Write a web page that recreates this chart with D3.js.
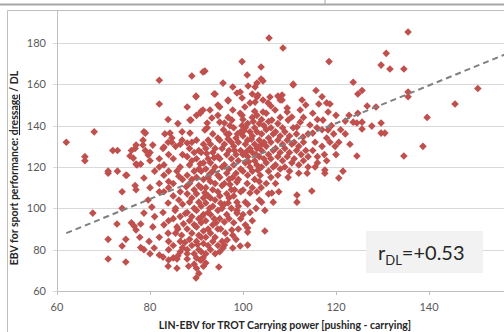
<!DOCTYPE html>
<html>
<head>
<meta charset="utf-8">
<script src="https://cdn.jsdelivr.net/npm/d3@7"></script>
<style>
  body { margin: 0; background: #fff; }
  svg { display: block; font-family: Lato, "Open Sans", sans-serif; }
</style>
</head>
<body>
<svg id="chart" width="504" height="332"></svg>
<script>
'use strict';
// LIN-EBV (trot carrying power) vs EBV dressage
const xTicks = [60, 80, 100, 120, 140];
const yTicks = [60, 80, 100, 120, 140, 160, 180];
const trendX = [62, 160];
const trendY = [88, 177.8];
const rLabel = 'r', rSub = 'DL', rValue = '=+0.53';

const ebvPairs = [
  // sparse left side
  [62,132],[66,125],[66,123],[68,137],[67.7,97.7],[71,117],[73,118],[74.8,116],[72,128],[73,128],
  [71,85],[74.8,85],[74,81.8],[71,75.5],[74.8,74],[72.9,92.4],[74,100],[74,108],[76,93],[76.6,91.4],
  [77,89.5],[78,92.4],[77.8,86],[79.8,84],[78,81],[78.7,80],[80.6,91],[80.9,80.8],[77,121.4],[78,121.4],
  [78.7,114.7],[76.8,111],[77,109],[76,128],[77,130.6],[78.5,130.6],[79,128],[79.6,125.8],[78.7,137],[82,162],
  [82,150.5],[83.9,143],[83.2,136],[84.3,136.4],[84.7,134],[83.9,132],[83,129.7],[82,77.4],[82.8,76.4],[83.9,72],
  [82.8,98],[83.9,102.6],[79.6,104],[80.4,100.6],[78.7,97.7],[83.9,88],[75.7,125.3],[76.4,124.3],[80,127],[80.6,130.6],
  [82.8,129],[84.7,132],[79,136.4],[78.5,133],[76.8,129],[71,118],[75,116],[77.2,121],[81,118],[82,112],
  [83,108],[80,110],[84,118],[83,121],[82,124],[84,126],[80,123],[81,96],[84,94],[84,84],
  [82,86],[84,80],[80,78],[84,75],[83,92],[82,120],[83,116],[84,113],[82,108],[84,110],
  // x 85-89
  [85,76],[85,82],[85.5,88],[85,95],[85.5,100],[85,106],[85,112],[85.8,118],[85,124],[85.5,130],
  [85.8,75.5],[85.8,71],[85.4,99],[85.8,91],[86,141],[86.9,137],[86.9,133],
  [86.5,79],[86.5,84],[86,90],[86.5,96],[87,102],[86.5,108],[87,114],[86.5,120],[87,126],[86.5,131],[87,81],[86.8,87],
  [88,75.5],[88,80],[88.5,85],[88,90],[88.5,94],[88,98],[88.5,103],[88,107],[88.5,112],[88,116],
  [88.5,121],[88,125],[88.5,129],[88,131.6],[88,149],[88.6,136.4],[88.6,142.7],[88,78],[88.3,72],
  [89,82],[89.5,78],[89,88],[89.5,92],[89,96],[89.5,100],[89,105],[89.5,109],[89,114],[89.5,118],
  [89,123],[89.5,127],[89,132],[89.9,154],[89.9,154.3],[88.8,142.7],[89,164],[89.9,66.3],[89.5,73],
  [87.2,92.5],[87.6,97.5],[86.2,104],[87.8,110.5],[86.2,115.5],[87.5,83.5],[86,77],
  // x 90-94
  [90,76],[90.5,80],[90,84],[90.5,87],[90,91],[90.5,95],[90,99],[90.5,103],[90,107],[90.5,111],
  [90,115],[90.5,119],[90,124],[90.5,128],[90,133],[90.8,146],[90,145],[90.8,75],[90,71],[90.5,68.5],
  [91,75],[91.4,76],[91,79],[91.5,83],[91,86],[91.5,89],[91,93],[91.5,97],[91,101],[91.5,105],
  [91,110],[91.5,114],[91,118],[91.5,122],[91,127],[91.5,131],[91.8,137.9],[91,147],[91.4,147.6],[91.4,166],
  [91.8,166.4],[91.5,72],
  [92,78],[92.5,82],[92,86],[92.5,90],[92,94],[92.5,98],[92,102.6],[92.5,106],[92,110],[92.5,115],
  [92,119],[92.5,124],[92,129],[92.3,141.3],[92.3,139],[92.9,147.6],[92.5,133],[92,73.5],
  [93,80],[93.5,84],[93,88],[93.5,92],[93,97],[93.5,101],[93,105],[93.5,109],[93,113],[93.5,118],
  [93,122],[93.5,127],[93,131],[93.3,143.7],[93.8,155.3],[93.5,136],
  [94,78],[94.6,82],[94,86],[94.6,90],[94.6,99],[94,104],[94.6,108],[94,112],[94.6,116],[94,120],
  [94.6,125],[94,129],[94.6,134],[94.6,145],[94.6,150],[94,155.3],[94.8,71.6],
  [90.2,82.5],[91.2,96],[92.8,100],[93.8,95],[91.8,107.5],[92.8,116.5],[93.8,124.5],[90.8,121.5],[92.2,126.5],[94.2,93],
  // x 95-99
  [95,79],[95.5,84],[95,95],[95.5,100],[95,106],[95.5,111],[95,115],[95.5,120],[95,124],[95.5,129],
  [95,133],[95,141.7],[95,149],[95.7,80.8],[95.7,160.6],
  [96,82.2],[96,93.4],[96.6,84.7],[96.5,97],[96,102],[96.5,107],[96,112],[96.5,117],[96,121],[96.5,126],
  [96,131],[96.5,136],[96,141.3],[96.8,144],[96.8,152],[96.8,152.4],[96.8,102.6],
  [97.6,89.5],[97.8,87],[97.8,80.8],[97,95],[97.5,100],[97,105],[97.5,109],[97,114],[97.8,115],[97,119],
  [97.5,124],[97,128],[97.5,132],[97,136],[97.6,142.7],[97.8,147.6],[97.8,158.7],
  [98.7,99],[98.7,97.7],[98.7,103],[98.7,112.7],[98,106],[98.5,117],[98,121],[98.5,126],[98,130],[98.5,134],
  [98,139],[98.7,155.8],[98,93],[98.5,85],
  [99.4,81.8],[99,90],[99.5,95],[99,101],[99.5,108],[99,114],[99.5,119],[99,123],[99.5,128],[99,132],
  [99.5,137],[99.8,140],[99.8,145],[99.4,146],[99.8,153.4],[99.4,156.3],[99.8,171],
  [95.2,90],[96.2,88],[95.8,138],[97.2,140],[98.2,128],[96.8,133.5],[98.8,136],[95.2,102.5],[97.2,111.5],[98.2,109],
  // x 100-104
  [100,108.9],[100.9,112],[100.4,149],[100.9,164.5],[100,118],[100.5,122],[100,126],[100.5,131],[100,135],[100.5,139],
  [100,143],[100.5,103],[100,97],[100.5,92],
  [101,90.5],[101,88.5],[101,82.2],[101.5,107.4],[101.5,151],[101.1,159.2],[101,116],[101.5,120],[101,125],[101.5,129],
  [101,133],[101.5,137],[101,141],[101.5,98],[101,102],
  [102,94],[102.8,100],[102,144],[102,155.3],[102.6,158.7],[102.6,151.4],[102,110],[102.5,114],[102,118],[102.5,123],
  [102,127],[102.5,131],[102,135],[102.5,139],[102.5,147],
  [103,160.6],[103,153.9],[103.2,154.8],[103.5,104],[103,108],[103.5,113],[103,121],[103.5,125],[103,129],[103.5,133],
  [103,137],[103.5,141],[103,145],
  [104,103],[104.7,99],[104.7,89],[103.7,116],[103.9,110],[103.9,168.4],[103.9,162.6],[104.3,161.6],[104.3,152.4],[104.3,146.6],
  [104,120],[104.5,124],[104,128],[104.5,132],[104,136],[104.5,140],[104,143],
  [100.8,127.5],[101.8,133.5],[102.8,126],[103.8,130.5],[100.2,137.5],[102.2,142],[103.2,118.5],[101.2,122.5],
  // x 105-110
  [105.6,182.4],[105.4,151],[105.8,153.9],[105,112],[105.5,118],[105,122],[105.5,126],[105,130],[105.5,134],[105,138],
  [105.5,142],[105,146],[105.5,107],
  [106.2,107.4],[106.5,103],[106.2,142.7],[106,149.5],[106.9,147.6],[106,115],[106.5,120],[106,124],[106.5,128],[106,132],
  [106.5,136],[106,139],
  [107.5,116],[107.7,108],[107.5,154.3],[107,121],[107.5,125],[107,129],[107.5,133],[107,137],[107.5,141],[107,112],
  [108,144],[108,152.4],[108.4,152.4],[108.4,154.8],[108.6,177.6],[108,119],[108.5,123],[108,127],[108.5,131],[108,135],[108.5,139],
  [109.5,146.6],[109.5,148.5],[109.7,142.7],[109.7,115],[109,120],[109.5,125],[109,129],[109.5,133],[109,137],
  [110.8,139],[110.5,144.2],[110.8,159.7],[110.8,160.1],[110,118],[110.5,122],[110,127],[110.5,131],[110,135],
  // x 111-121
  [111.6,106.4],[111.6,103],[111.6,139.3],[111,124],[111.5,128],[111,132],[111.5,136],[112.3,141.7],[112.3,147.6],[112.7,152.4],
  [112.9,134.5],[112,121],[112.5,126],[112,130],[112,117],
  [113.8,117],[113.5,150],[114.4,140.3],[114.8,108.4],[113,123],[113.5,128],[113,132],[114,136],[114,125],[113,144],[114,120],
  [115,136.4],[115.7,157],[115.9,139],[116.3,150.5],[115,128],[115.5,132],[116,125],[115.5,120],[116,143],[115,146],[116,122],
  [117.6,117],[117.6,118.5],[117,154],[117.2,142.7],[118,151],[118.3,146.6],[118.3,137.9],[118.5,171],[117,130],[117.5,126],
  [118,134],[117,138],[118,123],
  [118.7,150.5],[118.7,132],[119.8,130],[120.6,132],[121.5,118],[120.6,114.7],[119,140],[120,145],[119.5,136],[121,138],[120,126],
  // x 122 and up
  [123.7,161],[125.6,157],[124.7,155.3],[124.7,146],[122.8,145],[122,142.2],[123.7,141.7],[124.5,141.3],[125.6,141.7],[125.6,138.4],
  [124.5,125.3],[126.7,149.5],[122,136],[123,131],
  [128.6,149],[127.7,139.8],[129.7,141.3],[129.7,136.4],[130.5,136.4],[129.7,169.3],[131.6,167.4],[130.8,175],
  [134.6,167.4],[135.5,185.3],[135.5,156.3],[135.5,154],[134.6,125.3],[138.7,130],[139.6,144],[145.6,150.5],[150.5,158]
];

const svg = d3.select('#chart');
const W = 504, H = 332;

// frame lines (page border + chart border)
svg.append('line').attr('x1', 0).attr('x2', W).attr('y1', 4.5).attr('y2', 4.5)
  .attr('stroke', '#a6a6a6').attr('stroke-width', 2);
svg.append('line').attr('x1', 325).attr('x2', 325).attr('y1', 0).attr('y2', 4)
  .attr('stroke', '#a6a6a6').attr('stroke-width', 1);
svg.append('path').attr('d', `M7.5,${H}V10.5H${W}`)
  .attr('fill', 'none').attr('stroke', '#bfbfbf');

const x = d3.scaleLinear().domain([60, 160]).range([57, 522]);
const y = d3.scaleLinear().domain([60, 195]).range([291, 12]);

// horizontal gridlines
svg.append('g').selectAll('line').data(yTicks).enter().append('line')
  .attr('x1', 53).attr('x2', W)
  .attr('y1', d => Math.round(y(d)) + .5).attr('y2', d => Math.round(y(d)) + .5)
  .attr('stroke', '#d9d9d9');

// y axis line
svg.append('line').attr('x1', x(60) + .5).attr('x2', x(60) + .5)
  .attr('y1', 11).attr('y2', y(60)).attr('stroke', '#bfbfbf');

// x axis line + ticks
svg.append('line').attr('x1', x(60)).attr('x2', W)
  .attr('y1', Math.round(y(60)) + .5).attr('y2', Math.round(y(60)) + .5).attr('stroke', '#bfbfbf');
svg.append('g').selectAll('line').data(xTicks).enter().append('line')
  .attr('x1', d => Math.round(x(d)) + .5).attr('x2', d => Math.round(x(d)) + .5)
  .attr('y1', y(60)).attr('y2', y(60) + 4).attr('stroke', '#bfbfbf');

// tick labels
svg.append('g').selectAll('text').data(yTicks).enter().append('text')
  .attr('x', 46).attr('y', d => y(d) + 4)
  .attr('text-anchor', 'end').attr('font-size', 11).attr('fill', '#595959')
  .text(d => d);
svg.append('g').selectAll('text').data(xTicks).enter().append('text')
  .attr('x', d => x(d)).attr('y', 311)
  .attr('text-anchor', 'middle').attr('font-size', 11).attr('fill', '#595959')
  .text(d => d);

// points
const diamond = d3.symbol().type(d3.symbolSquare).size(29);
svg.append('g').selectAll('path').data(ebvPairs).enter().append('path')
  .attr('d', diamond)
  .attr('transform', d => `translate(${x(d[0])},${y(d[1])}) rotate(45)`)
  .attr('fill', '#c0504d');

// trend line
svg.append('line')
  .attr('x1', x(trendX[0])).attr('y1', y(trendY[0]))
  .attr('x2', x(trendX[1])).attr('y2', y(trendY[1]))
  .attr('stroke', '#808080').attr('stroke-width', 2).attr('stroke-dasharray', '6,4');

// axis titles
svg.append('text').attr('x', 285).attr('y', 329)
  .attr('text-anchor', 'middle').attr('font-size', 10.5).attr('font-weight', 'bold')
  .attr('fill', '#262626')
  .text('LIN-EBV for TROT Carrying power [pushing - carrying]');

const yt = svg.append('text')
  .attr('transform', 'translate(18,168) rotate(-90)')
  .attr('text-anchor', 'middle').attr('font-size', 10.5).attr('font-weight', 'bold')
  .attr('fill', '#262626');
yt.append('tspan').text('EBV for sport performance: ');
yt.append('tspan').attr('text-decoration', 'underline').text('dressage');
yt.append('tspan').text(' / DL');

// correlation box
svg.append('rect').attr('x', 366).attr('y', 231).attr('width', 117).attr('height', 42)
  .attr('fill', '#f2f2f2');
const rt = svg.append('text').attr('x', 378).attr('y', 260)
  .attr('font-size', 20).attr('fill', '#262626');
rt.append('tspan').text(rLabel);
rt.append('tspan').attr('font-size', 13).attr('dy', 5).text(rSub);
rt.append('tspan').attr('dy', -5).text(rValue);
</script>
</body>
</html>
